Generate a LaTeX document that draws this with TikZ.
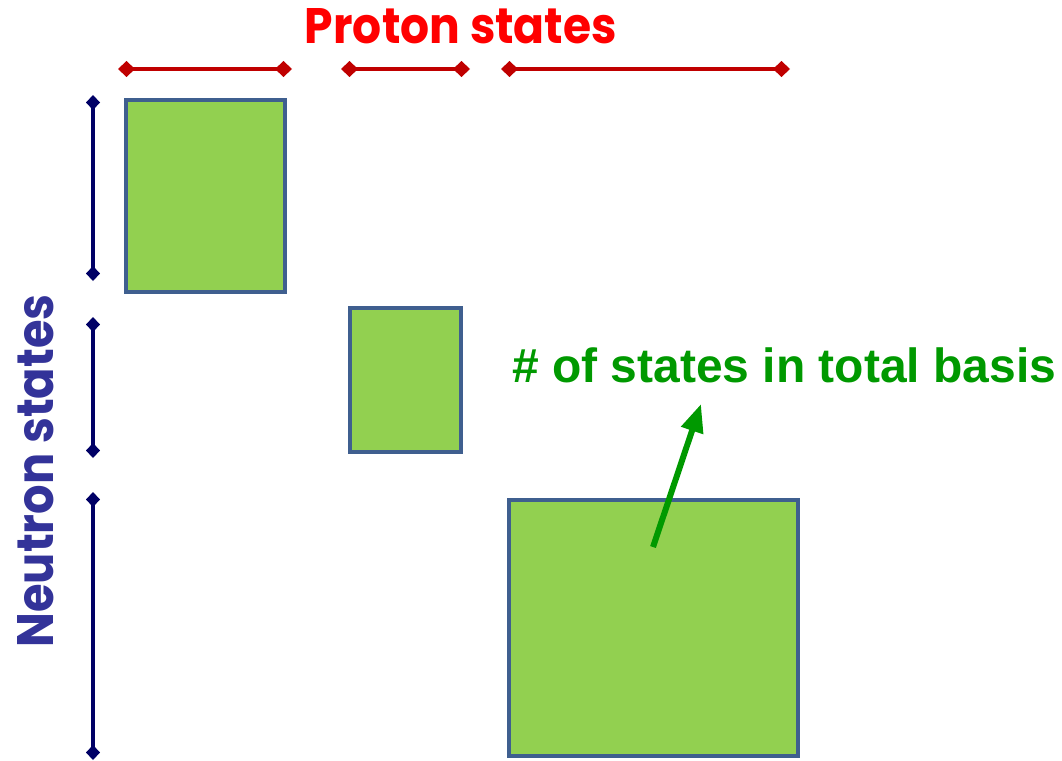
\documentclass[tikz,border=0pt]{standalone}
\usepackage{fontspec}
\setmainfont{Liberation Sans}
\newfontfamily\comic{Poppins}
\usetikzlibrary{arrows.meta}
\definecolor{boxfill}{HTML}{92D050}
\definecolor{boxline}{HTML}{3F5F8F}
\definecolor{pline}{HTML}{C00000}
\definecolor{nline}{HTML}{000066}
\definecolor{ptext}{HTML}{FF0000}
\definecolor{ntext}{HTML}{333399}
\definecolor{gtext}{HTML}{009900}
\begin{document}
\begin{tikzpicture}[x=1pt,y=-1pt,
  blk/.style={draw=boxline,fill=boxfill,line width=4.5pt,inner sep=0pt,outer sep=0pt},
  prot/.style={draw=pline,line width=4pt,{Diamond[length=17pt,width=16pt]}-{Diamond[length=17pt,width=16pt]}},
  neut/.style={draw=nline,line width=3.5pt,{Diamond[length=15pt,width=14pt]}-{Diamond[length=15pt,width=14pt]}},
  garrow/.style={draw=gtext,line width=6pt,-{Triangle[length=28pt,width=22pt]}},
]
\fill[white] (0,0) rectangle (1062,760);
\useasboundingbox (0,0) rectangle (1062,760);

% blocks
\node[blk,minimum width=159pt,minimum height=192pt] (b1) at (205.5,196) {};
\node[blk,minimum width=111pt,minimum height=144pt] (b2) at (405.5,380) {};
\node[blk,minimum width=289pt,minimum height=256pt] (b3) at (653.5,628) {};

% proton ranges
\coordinate (p1a) at (118,69); \coordinate (p1b) at (292,69);
\coordinate (p2a) at (341,69); \coordinate (p2b) at (470,69);
\coordinate (p3a) at (501,69); \coordinate (p3b) at (790,69);
\draw[prot] (p1a) -- (p1b);
\draw[prot] (p2a) -- (p2b);
\draw[prot] (p3a) -- (p3b);

% neutron ranges
\coordinate (n1a) at (93,95);  \coordinate (n1b) at (93,281);
\coordinate (n2a) at (93,317); \coordinate (n2b) at (93,458);
\coordinate (n3a) at (93,492); \coordinate (n3b) at (93,760);
\draw[neut] (n1a) -- (n1b);
\draw[neut] (n2a) -- (n2b);
\draw[neut] (n3a) -- (n3b);

% labels
\node[anchor=base,text=ptext,inner sep=0pt] (pt) at (461,44)
  {\comic\bfseries\resizebox{312pt}{35pt}{Proton states}};
\node[anchor=base,rotate=90,text=ntext,inner sep=0pt] (nt) at (53,471)
  {\comic\bfseries\resizebox{353pt}{36pt}{Neutron states}};
\node[anchor=base west,text=gtext,inner sep=0pt,font=\bfseries\fontsize{48}{50}\selectfont] (gt) at (512,382)
  {\# of states in total basis};

% arrow
\coordinate (a0) at (653,547);
\coordinate (a1) at (701,404);
\draw[garrow] (a0) -- (a1);
\end{tikzpicture}
\end{document}
